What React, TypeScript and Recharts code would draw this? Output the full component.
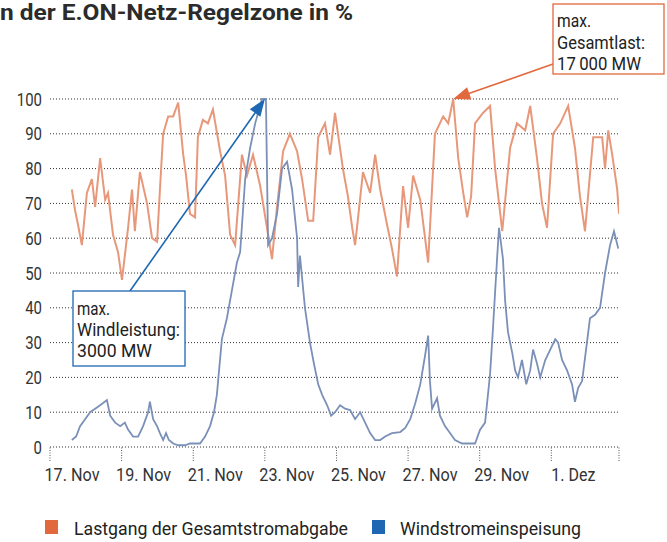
import React from 'react';
import { LineChart, Line, XAxis, YAxis, CartesianGrid, ReferenceDot } from 'recharts';

// time axis: days since 17 Nov 00:00
const loadDays = [0.61,0.70,0.78,0.89,1.03,1.17,1.26,1.40,1.54,1.62,1.76,1.90,2.01,2.09,2.18,2.29,2.37,2.51,2.71,2.85,2.99,3.07,3.16,3.30,3.44,3.58,3.72,3.80,3.91,4.05,4.13,4.27,4.41,4.55,4.75,4.89,5.03,5.17,5.36,5.50,5.67,5.87,6.06,6.20,6.34,6.51,6.70,6.90,7.04,7.21,7.35,7.49,7.68,7.82,7.96,8.18,8.32,8.44,8.52,8.74,8.94,9.08,9.22,9.41,9.55,9.69,9.86,10.00,10.14,10.34,10.45,10.56,10.75,10.98,11.12,11.26,11.40,11.54,11.65,11.76,11.87,12.09,12.29,12.43,12.63,12.85,13.04,13.27,13.41,13.60,13.74,13.88,14.05,14.25,14.47,14.66,14.80,14.94,15.17,15.42,15.50,15.59,15.70,15.84,15.89];
const loadValues = [74,68,64,58,73,77,69,83,71,73,61,56,48,55,63,74,62,79,70,60,59,74,90,95,95,99,84,78,67,66,89,94,93,97,85,78,61,58,84,78,84,75,63,54,69,85,90,85,77,65,65,89,93,84,96,80,72,63,58,79,73,84,74,64,57,49,75,63,78,71,62,53,90,95,93,100,83,73,66,72,93,96,98,80,62,86,93,91,98,83,70,63,90,93,98,86,72,62,89,89,80,91,84,74,67];

const windDays = [0.61,0.73,0.84,0.98,1.12,1.26,1.40,1.59,1.68,1.82,1.96,2.09,2.18,2.32,2.46,2.60,2.74,2.79,2.88,2.99,3.07,3.16,3.24,3.32,3.44,3.58,3.77,3.91,4.05,4.19,4.33,4.47,4.58,4.66,4.80,4.94,5.08,5.22,5.31,5.45,5.59,5.73,5.92,6.03,6.09,6.20,6.34,6.48,6.62,6.76,6.90,6.93,6.98,7.12,7.26,7.37,7.49,7.60,7.74,7.85,7.96,8.10,8.24,8.38,8.52,8.66,8.80,8.94,9.08,9.22,9.36,9.55,9.78,9.92,10.06,10.20,10.34,10.47,10.56,10.61,10.67,10.81,10.89,11.03,11.17,11.31,11.51,11.87,12.01,12.15,12.29,12.37,12.49,12.54,12.65,12.71,12.79,12.91,12.99,13.07,13.18,13.30,13.41,13.49,13.60,13.69,13.83,13.97,14.11,14.19,14.30,14.44,14.58,14.66,14.75,14.86,14.97,15.08,15.22,15.36,15.50,15.64,15.75,15.87];
const windValues = [2,3,6,8,10,11,12,13.5,9,7,6,7,5,3,3,6,10,13,8,6,4,2,4,2,1,0.5,0.5,1,1,1,3,6,10,15,31,37,45,53,56,77,86,93,100,100,58,60,67,80,82,74,60,46,55,40,30,24,18,15,12,9,10,12,11,10.6,8,10,7,4,2,2,3,4,4.3,5.5,8,12.6,18,26,32,19,11,14,9,6,4,2,1,1,5,7,21,34,55,63,54,42,33,27,22,20,25,18,22,28,24,20,25,28,31,30,25,22,18,13,17,19,28,37,38,40,50,58,62,57];

const xTickDays = [0, 2, 4, 6, 8, 10, 12, 14, 15.89];
const xTickLabels = ['17. Nov', '19. Nov', '21. Nov', '23. Nov', '25. Nov', '27. Nov', '29. Nov', '1. Dez', ''];
const yTicks = [0, 10, 20, 30, 40, 50, 60, 70, 80, 90, 100];

const titleText = 'n der E.ON-Netz-Regelzone in %';
const seriesNames = ['Lastgang der Gesamtstromabgabe', 'Windstromeinspeisung'];
const loadMax = { day: 11.26, value: 100, lines: ['max.', 'Gesamtlast:', '17\u2009000 MW'] };
const windMax = { day: 6.0, value: 100, lines: ['max.', 'Windleistung:', '3000 MW'] };

const ORANGE = '#e2693d';
const BLUE = '#1e67b2';
const FONT = 'Roboto, "Liberation Sans", sans-serif';

const loadData = loadDays.map((d, i) => ({ day: d, value: loadValues[i] }));
const windData = windDays.map((d, i) => ({ day: d, value: windValues[i] }));

function T(props: any) {
  const { x, y, w, size = 18, weight = 400, anchor = 'start', fill = '#222', children } = props;
  return (
    <text x={x} y={y} fontSize={size} fontWeight={weight} fontFamily={FONT} fill={fill}
      textAnchor={anchor} textLength={w} lengthAdjust="spacingAndGlyphs">{children}</text>
  );
}

function Arrow({ x1, y1, x2, y2, color }: any) {
  const ang = Math.atan2(y2 - y1, x2 - x1);
  const L = 17, W = 6.5;
  const bx = x2 - L * Math.cos(ang), by = y2 - L * Math.sin(ang);
  const px = -Math.sin(ang) * W, py = Math.cos(ang) * W;
  return (
    <g>
      <line x1={x1} y1={y1} x2={bx + 2 * Math.cos(ang)} y2={by + 2 * Math.sin(ang)} stroke={color} strokeWidth={1.6} />
      <polygon points={`${x2},${y2} ${bx + px},${by + py} ${bx - px},${by - py}`} fill={color} />
    </g>
  );
}

const XTick = (props: any) => {
  const { x, y, payload } = props;
  const idx = xTickDays.indexOf(payload.value);
  const label = xTickLabels[idx] || '';
  if (!label) return null;
  const w = label.length <= 6 ? 44 : 55;
  return <T x={x + 22} y={y + 20} w={w} anchor="middle" size={18} fill="#333">{label}</T>;
};

const YTick = (props: any) => {
  const { y, payload } = props;
  const s = String(payload.value);
  return <T x={42} y={y + 6.5} w={s.length * 8.4} anchor="end" size={18} fill="#333">{s}</T>;
};

const LoadAnnot = (p: any) => {
  const { cx, cy } = p;
  return (
    <g>
      <Arrow x1={553} y1={64} x2={cx} y2={cy} color={ORANGE} />
      <rect x={553} y={4} width={111} height={70} fill="#fff" stroke={ORANGE} strokeWidth={1.3} />
      <T x={557} y={27} w={34}>{loadMax.lines[0]}</T>
      <T x={557} y={49} w={88}>{loadMax.lines[1]}</T>
      <T x={557} y={70} w={84}>{loadMax.lines[2]}</T>
    </g>
  );
};

const WindAnnot = (p: any) => {
  const { cx, cy } = p;
  return (
    <g>
      <Arrow x1={130} y1={291} x2={cx} y2={cy} color={BLUE} />
      <rect x={73} y={291} width={112} height={75} fill="#fff" stroke={BLUE} strokeWidth={1.3} />
      <T x={77} y={315} w={33}>{windMax.lines[0]}</T>
      <T x={77} y={336} w={103}>{windMax.lines[1]}</T>
      <T x={77} y={357} w={75}>{windMax.lines[2]}</T>
    </g>
  );
};

export default function App() {
  return (
    <div style={{ position: 'absolute', left: 0, top: 0, width: 667, height: 542, background: '#fff' }}>
      <LineChart width={667} height={542} margin={{ top: 99, right: 48, bottom: 0, left: 0 }}>
        <CartesianGrid vertical={false} stroke="#333" strokeDasharray="1 2" />
        <XAxis type="number" dataKey="day" domain={[0, 15.89]} ticks={xTickDays} interval={0}
          allowDataOverflow axisLine={false} tickSize={14} tickMargin={0} height={95}
          tickLine={{ stroke: '#555', strokeDasharray: '1 1.5' }} tick={<XTick />} />
        <YAxis type="number" domain={[0, 100]} ticks={yTicks} interval={0} width={50}
          axisLine={false} tickLine={false} tickSize={0} tickMargin={8} tick={<YTick />} />
        <Line data={loadData} dataKey="value" type="linear" stroke="#e8987a" strokeWidth={2}
          dot={false} isAnimationActive={false} />
        <Line data={windData} dataKey="value" type="linear" stroke="#7b90b8" strokeWidth={1.8}
          dot={false} isAnimationActive={false} />
        <ReferenceDot x={windMax.day} y={windMax.value} r={0} ifOverflow="visible" shape={WindAnnot} />
        <ReferenceDot x={loadMax.day} y={loadMax.value} r={0} ifOverflow="visible" shape={LoadAnnot} />
      </LineChart>
      <svg width={667} height={542} style={{ position: 'absolute', left: 0, top: 0, pointerEvents: 'none' }}>
        <T x={0} y={20} w={353} size={22} weight={700} fill="#2b2b2b">{titleText}</T>
        <rect x={45} y={520} width={13} height={14} fill={ORANGE} />
        <T x={74} y={535} w={274} size={18}>{seriesNames[0]}</T>
        <rect x={372} y={520} width={13} height={14} fill={BLUE} />
        <T x={400} y={535} w={181} size={18}>{seriesNames[1]}</T>
      </svg>
    </div>
  );
}
